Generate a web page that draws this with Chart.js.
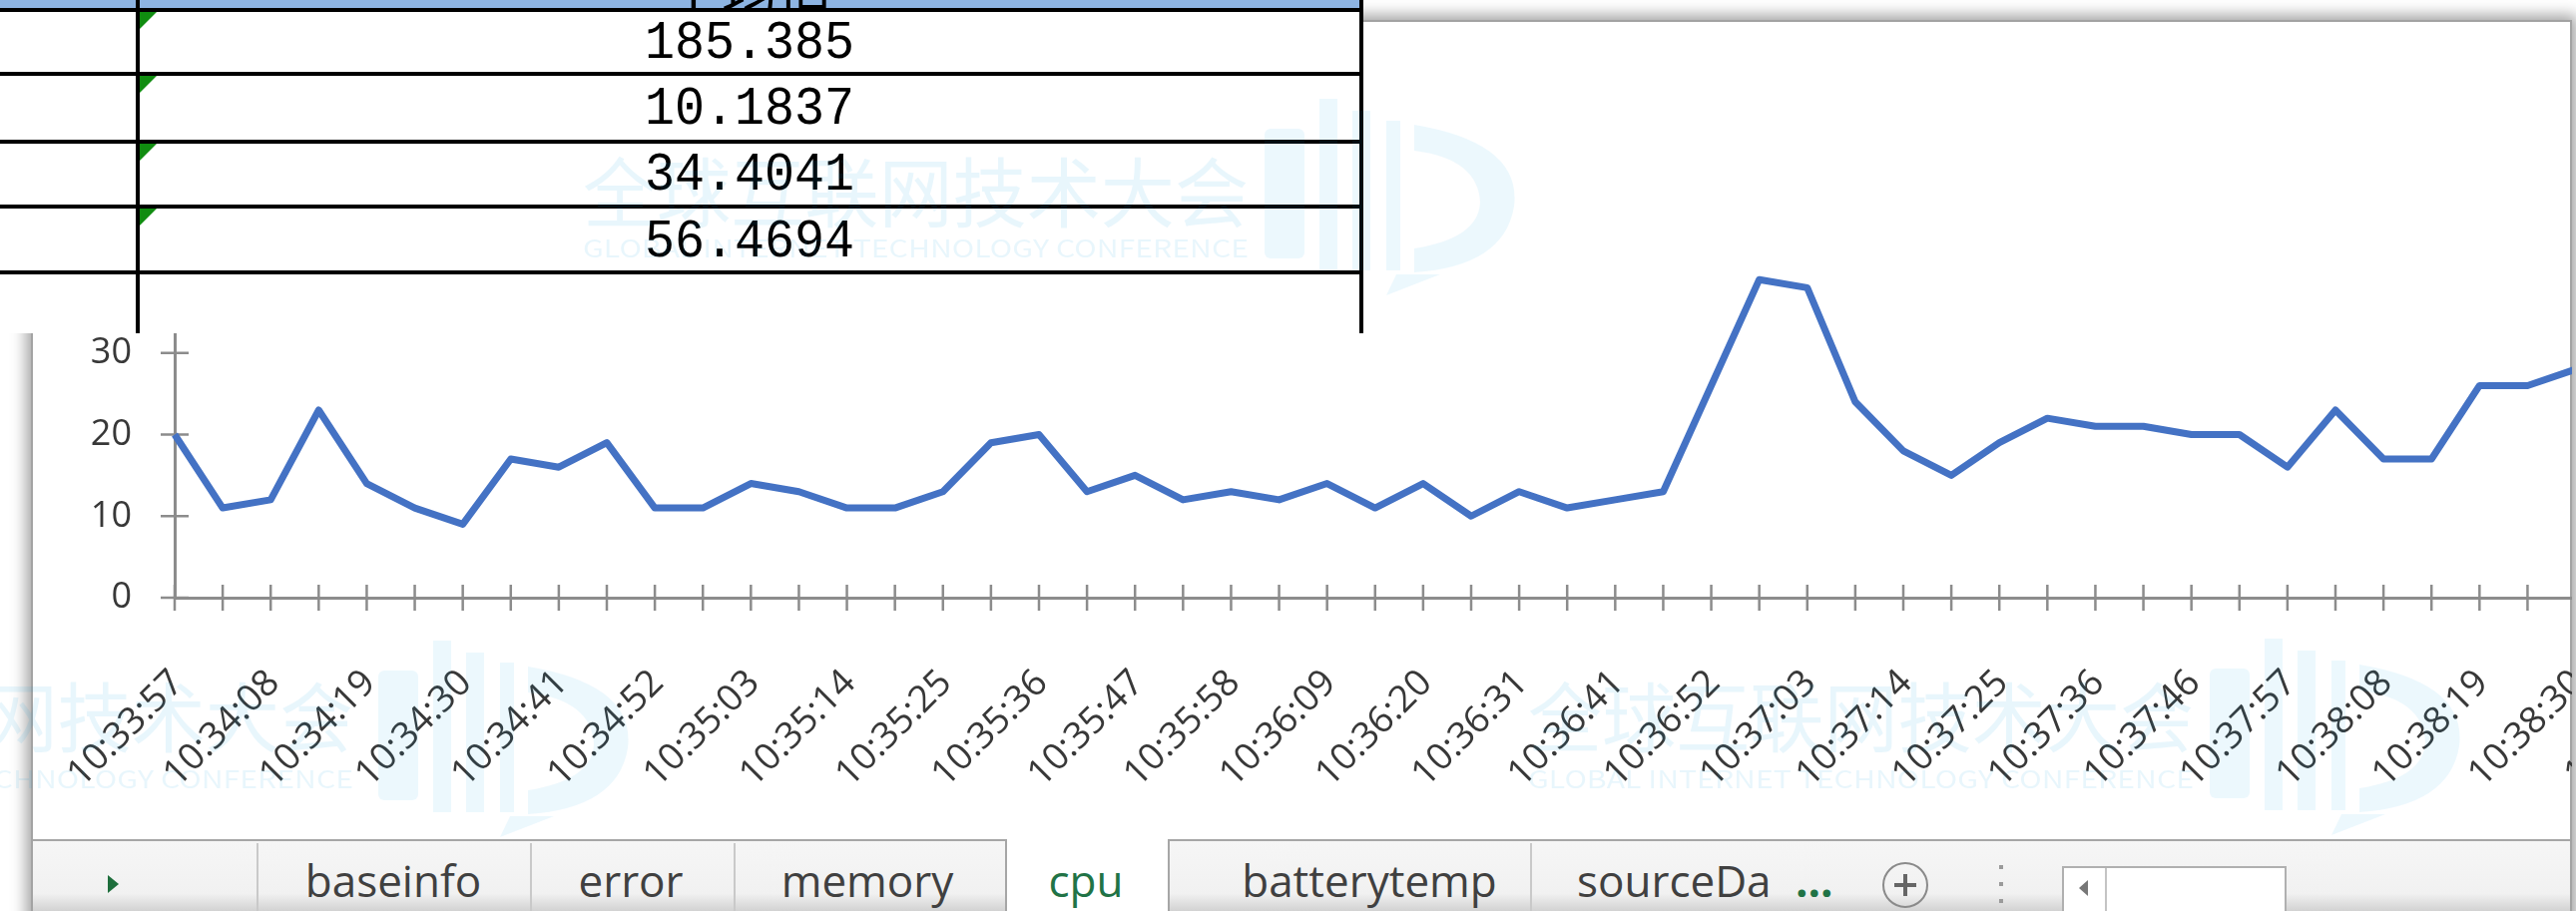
<!DOCTYPE html>
<html>
<head>
<meta charset="utf-8">
<title>cpu</title>
<script src="https://cdn.jsdelivr.net/npm/chart.js@4.4.1/dist/chart.umd.min.js"></script>
<style>
  html, body { margin: 0; padding: 0; }
  body { width: 2581px; height: 913px; overflow: hidden; position: relative; background: #fff;
         font-family: "Segoe UI", "Open Sans", sans-serif; }
  #frame { position: absolute; left: 31px; top: 20px; width: 2542px; height: 940px; background: #fff;
           border: 2px solid #a3a3a3; box-shadow: 0 0 14px 5px rgba(0,0,0,.36); }
  #plot { position: absolute; left: 0; top: 0; width: 2577px; height: 840px; overflow: hidden; }
  #plot canvas { position: absolute; left: 0; top: 0; }

  /* sheet tabs */
  #tabbg { position: absolute; left: 33px; top: 841px; width: 2542px; height: 72px;
           border-top: 2px solid #a6a6a6; box-sizing: border-box;
           background: linear-gradient(#f6f6f6 0%, #f1f1f1 75%, #d2d2d2 100%); }
  .sep { position: absolute; top: 845px; width: 2px; height: 68px; background: #c9c9c9; }
  #cpuTab { position: absolute; left: 1007px; top: 841px; width: 165px; height: 72px; background: #fff;
            border-left: 2px solid #a6a6a6; border-right: 2px solid #a6a6a6; box-sizing: border-box; }
  .tab { position: absolute; top: 852px; height: 60px; line-height: 60px; font-size: 44px; color: #404040;
         white-space: nowrap; transform: translateX(-50%); }
  #cpuLabel { color: #217346; }
  #srcTab { position: absolute; left: 1580px; top: 852px; width: 192px; height: 60px; line-height: 60px;
            font-size: 44px; color: #404040; white-space: nowrap; overflow: hidden; }
  #more { position: absolute; left: 1799px; top: 852px; height: 60px; line-height: 60px; font-size: 44px;
          color: #217346; font-weight: bold; }
  #prevArrow { position: absolute; left: 108px; top: 877px; width: 0; height: 0;
               border-left: 11px solid #1e6e3c; border-top: 9px solid transparent; border-bottom: 9px solid transparent; }
  #addSheet { position: absolute; left: 1886px; top: 864px; width: 42px; height: 42px; border: 2px solid #8a8a8a;
              border-radius: 50%; }
  #addSheet:before, #addSheet:after { content: ""; position: absolute; background: #666; }
  #addSheet:before { left: 10px; top: 19px; width: 22px; height: 4px; }
  #addSheet:after { left: 19px; top: 10px; width: 4px; height: 22px; }
  .dot { position: absolute; left: 2003px; width: 4px; height: 4px; background: #9a9a9a; }
  #scroll { position: absolute; left: 2066px; top: 868px; width: 225px; height: 50px; background: #fff;
            border: 2px solid #b0b0b0; box-sizing: border-box; }
  #scroll .btn { position: absolute; left: 0; top: 0; width: 41px; height: 48px; border-right: 2px solid #c4c4c4; }
  #scroll .btn:after { content: ""; position: absolute; left: 15px; top: 12px; width: 0; height: 0;
                       border-right: 9px solid #777; border-top: 8px solid transparent; border-bottom: 8px solid transparent; }

  /* pasted table on top */
  #sheet { position: absolute; left: 0; top: 0; width: 1366px; height: 334px; background: #fff; overflow: hidden; }
  #sheet .hdr { position: absolute; left: 0; top: 0; width: 1362px; height: 8px; background: #8db4e2; overflow: hidden; }
  #sheet .hdr span { position: absolute; left: 751px; top: -52px; transform: translateX(-50%);
                     font-family: "Noto Sans CJK SC", sans-serif; font-size: 56px; color: #000; }
  .hl { position: absolute; left: 0; width: 1366px; height: 4px; background: #000; }
  .vl { position: absolute; top: 0; width: 4px; height: 334px; background: #000; }
  .num { position: absolute; left: 140px; width: 1222px; text-align: center; font-family: "Liberation Mono", monospace;
         font-size: 50px; line-height: 60px; height: 60px; color: #000; transform: scaleY(1.08); }
  .flag { position: absolute; left: 140px; width: 0; height: 0; border-top: 17px solid #108c10; border-right: 17px solid transparent; }

  #wm { position: absolute; left: 0; top: 0; pointer-events: none; }
</style>
</head>
<body>

<div id="frame"></div>
<div id="plot"><canvas id="cpuChart" width="2888" height="840"></canvas></div>

<div id="tabbg"></div>
<div id="prevArrow"></div>
<div class="sep" style="left:257px"></div>
<div class="sep" style="left:531px"></div>
<div class="sep" style="left:735px"></div>
<div class="sep" style="left:1533px"></div>
<div id="cpuTab"></div>
<div class="tab" style="left:394px">baseinfo</div>
<div class="tab" style="left:632px">error</div>
<div class="tab" style="left:869px">memory</div>
<div class="tab" id="cpuLabel" style="left:1088px">cpu</div>
<div class="tab" style="left:1372px">batterytemp</div>
<div id="srcTab">sourceData</div>
<div id="more">...</div>
<div id="addSheet"></div>
<div class="dot" style="top:867px"></div>
<div class="dot" style="top:884px"></div>
<div class="dot" style="top:901px"></div>
<div id="scroll"><div class="btn"></div></div>

<div id="sheet">
  <div class="hdr"><span>平均值</span></div>
  <div class="hl" style="top:8px"></div>
  <div class="hl" style="top:72px"></div>
  <div class="hl" style="top:140px"></div>
  <div class="hl" style="top:205px"></div>
  <div class="hl" style="top:271px"></div>
  <div class="vl" style="left:136px"></div>
  <div class="vl" style="left:1362px"></div>
  <div class="flag" style="top:12px"></div>
  <div class="flag" style="top:76px"></div>
  <div class="flag" style="top:144px"></div>
  <div class="flag" style="top:209px"></div>
</div>

<svg id="wm" width="2581" height="913" viewBox="0 0 2581 913">
  <defs>
    <g id="logo">
      <rect x="0" y="30" width="40" height="130" rx="6"/>
      <rect x="55" y="0" width="18" height="172"/>
      <rect x="88" y="12" width="18" height="160"/>
      <rect x="122" y="22" width="14" height="150"/>
      <path d="M150 26 Q258 44 250 108 Q240 168 150 174 L150 150 Q214 140 216 104 Q214 60 150 52 Z"/>
      <path d="M132 176 L176 176 L122 197 Z"/>
    </g>
  </defs>
  <g fill="rgba(0,160,225,0.09)" font-family="Noto Sans CJK SC, sans-serif">
    <text x="584" y="222" font-size="76" textLength="667" lengthAdjust="spacingAndGlyphs">全球互联网技术大会</text>
    <text x="584" y="258" font-size="24" textLength="667" lengthAdjust="spacingAndGlyphs">GLOBAL INTERNET TECHNOLOGY CONFERENCE</text>
    <text x="-313" y="748" font-size="76" textLength="667" lengthAdjust="spacingAndGlyphs">全球互联网技术大会</text>
    <text x="-313" y="790" font-size="24" textLength="667" lengthAdjust="spacingAndGlyphs">GLOBAL INTERNET TECHNOLOGY CONFERENCE</text>
    <text x="1531" y="748" font-size="76" textLength="667" lengthAdjust="spacingAndGlyphs">全球互联网技术大会</text>
    <text x="1531" y="790" font-size="24" textLength="667" lengthAdjust="spacingAndGlyphs">GLOBAL INTERNET TECHNOLOGY CONFERENCE</text>
  </g>
  <g fill="rgba(0,160,225,0.075)">
    <use href="#logo" transform="translate(1267,99)"/>
    <use href="#logo" transform="translate(379,642)"/>
    <use href="#logo" transform="translate(2214,640)"/>
  </g>
</svg>

<script>
// cpu samples, one every ~5.5 s; only every second sample gets a time label
var cpuValues = [20, 11, 12, 23, 14, 11, 9, 17, 16, 19,
                 11, 11, 14, 13, 11, 11, 13, 19, 20, 13,
                 15, 12, 13, 12, 14, 11, 14, 10, 13, 11,
                 12, 13, 26, 39, 38, 24, 18, 15, 19, 22,
                 21, 21, 20, 20, 16, 23, 17, 17, 26, 26,
                 28];
var timeLabels = ['10:33:57', '10:34:08', '10:34:19', '10:34:30', '10:34:41', '10:34:52',
                  '10:35:03', '10:35:14', '10:35:25', '10:35:36', '10:35:47', '10:35:58',
                  '10:36:09', '10:36:20', '10:36:31', '10:36:41', '10:36:52', '10:37:03',
                  '10:37:14', '10:37:25', '10:37:36', '10:37:46', '10:37:57', '10:38:08',
                  '10:38:19', '10:38:30', '10:38:41', '10:38:52'];
var yMin = 0, yMax = 40, yStep = 10;
// the pasted table in the top left corner
var avgValues = ['185.385', '10.1837', '34.4041', '56.4694'];

//---------------------------------------------
// table cells
//---------------------------------------------
var rowTops = [14, 80, 146, 213]; // where each number line starts
var sheet = document.getElementById('sheet');
avgValues.forEach(function (v, i) {
  var d = document.createElement('div');
  d.className = 'num';
  d.style.top = rowTops[i] + 'px';
  d.textContent = v;
  sheet.appendChild(d);
});

//---------------------------------------------
// chart
//---------------------------------------------
var axisGray = '#8c8c8c';
var pointCount = timeLabels.length * 2 - 1;
var labels = [];
for (var i = 0; i < pointCount; i++) {
  labels.push(i % 2 == 0 ? timeLabels[i / 2] : ''); //label every other sample
}

// excel style tick marks that cross the axis
const crossTicks = {
  id: 'crossTicks',
  beforeDatasetsDraw(chart) {
    const ctx = chart.ctx;
    const x = chart.scales.x, y = chart.scales.y;
    const x0 = x.left, y0 = y.getPixelForValue(0);
    ctx.save();
    ctx.strokeStyle = axisGray;
    ctx.lineWidth = 2.5;
    ctx.beginPath();
    x.ticks.forEach(function (t, i) {
      const px = x.getPixelForTick(i);
      ctx.moveTo(px, y0 - 13);
      ctx.lineTo(px, y0 + 13);
    });
    y.ticks.forEach(function (t, i) {
      const py = y.getPixelForTick(i);
      ctx.moveTo(x0 - 14, py);
      ctx.lineTo(x0 + 14, py);
    });
    ctx.stroke();
    ctx.restore();
  }
};

Chart.defaults.font.family = '"Segoe UI", "Open Sans", sans-serif';
Chart.defaults.color = '#383838';

const data = {
  labels: labels,
  datasets: [{
    label: 'cpu',
    data: cpuValues,
    borderColor: '#4472c4',
    borderWidth: 7,
    borderJoinStyle: 'round',
    pointRadius: 0,
    tension: 0,
    fill: false
  }]
};

const config = {
  type: 'line',
  data: data,
  options: {
    responsive: false,
    animation: false,
    // right padding has to cover the rotated last label plus tick padding
    layout: { padding: { left: 0, top: 272, right: 115, bottom: 0 } },
    plugins: {
      legend: { display: false },
      title: { display: false },
      tooltip: { enabled: false }
    },
    scales: {
      x: {
        offset: false,
        grid: { display: false, drawTicks: false },
        border: { display: true, color: axisGray, width: 3 },
        ticks: {
          autoSkip: false,
          minRotation: 45,
          maxRotation: 45,
          padding: 64,
          labelOffset: 3,
          font: { size: 37 }
        },
        afterFit: function (scale) { scale.height = 241; }
      },
      y: {
        min: yMin,
        max: yMax,
        grid: { display: false, drawTicks: false },
        border: { display: true, color: axisGray, width: 3 },
        ticks: { stepSize: yStep, padding: 43, font: { size: 36 } },
        afterFit: function (scale) { scale.width = 175; }
      }
    }
  },
  plugins: [crossTicks]
};

const cpuChart = new Chart(document.getElementById('cpuChart'), config);
</script>
</body>
</html>
